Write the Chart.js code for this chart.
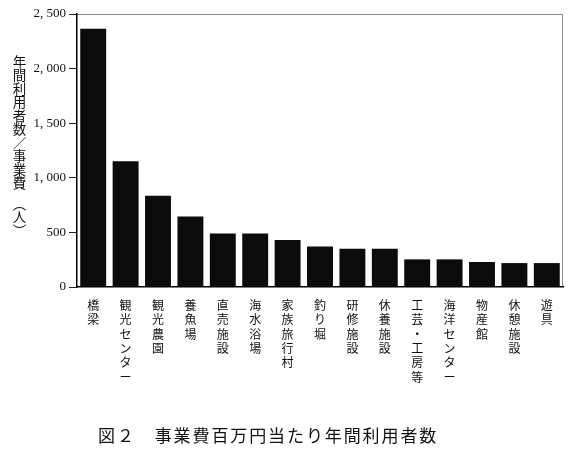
<!DOCTYPE html>
<html>
<head>
<meta charset="utf-8">
<script src="https://cdn.jsdelivr.net/npm/chart.js@4/dist/chart.umd.min.js"></script>
<style>
  html, body { margin: 0; padding: 0; background: #fff; }
  #wrap { position: relative; width: 572px; height: 450px; }
  #ytitle {
    position: absolute; left: 12px; top: 55px;
    writing-mode: vertical-rl; text-orientation: upright;
    font-family: "Noto Sans CJK JP", sans-serif; font-size: 13.5px; line-height: 13.5px;
    color: #111; white-space: nowrap;
  }
  #title {
    position: absolute; left: 98px; top: 426px;
    font-family: "Noto Sans CJK JP", sans-serif; font-size: 17px; line-height: 17px;
    letter-spacing: 1.9px; color: #111; white-space: nowrap;
  }
</style>
</head>
<body>
<div id="wrap">
  <canvas id="c"></canvas>
  <div id="ytitle">年間利用者数／事業費　（人）</div>
  <div id="title">図２　事業費百万円当たり年間利用者数</div>
</div>
<script>
const categories = ['橋梁', '観光センター', '観光農園', '養魚場', '直売施設', '海水浴場', '家族旅行村', '釣り堀', '研修施設', '休養施設', '工芸・工房等', '海洋センター', '物産館', '休憩施設', '遊具'];
const usersPerCost = [2365, 1152, 835, 646, 491, 491, 430, 372, 350, 350, 253, 253, 229, 219, 219];
const yTicks = [0, 500, 1000, 1500, 2000, 2500];
const yTickLabels = ['0', '500', '1, 000', '1, 500', '2, 000', '2, 500'];

const framePlugin = {
  id: 'frame',
  beforeDraw(chart) {
    const a = chart.chartArea, ctx = chart.ctx;
    ctx.save();
    ctx.strokeStyle = '#8a8a8a';
    ctx.lineWidth = 1;
    ctx.beginPath();
    ctx.moveTo(a.left, a.top + 0.5);
    ctx.lineTo(a.right - 0.5, a.top + 0.5);
    ctx.lineTo(a.right - 0.5, a.bottom);
    ctx.stroke();
    ctx.restore();
  }
};

new Chart(document.getElementById('c'), {
  type: 'bar',
  data: {
    labels: categories,
    datasets: [{
      data: usersPerCost,
      backgroundColor: '#0b0b0b',
      borderWidth: 0,
      barPercentage: 0.8,
      categoryPercentage: 1.0
    }]
  },
  options: {
    responsive: true,
    maintainAspectRatio: false,
    animation: false,
    layout: { padding: { left: 0, right: 9, top: 14, bottom: 0 } },
    plugins: {
      legend: { display: false },
      tooltip: { enabled: false },
      title: { display: false }
    },
    scales: {
      x: {
        grid: { display: false, drawTicks: false },
        border: { display: true, color: '#000', width: 1.5 },
        ticks: {
          autoSkip: false, maxRotation: 0, minRotation: 0, padding: 11,
          color: '#111',
          font: { family: '"Noto Sans CJK JP", sans-serif', size: 12, lineHeight: 1.2 },
          callback: (v, i) => Array.from(categories[i])
        },
        afterFit(scale) { scale.height = 163; }
      },
      y: {
        min: 0, max: 2500,
        afterBuildTicks(scale) { scale.ticks = yTicks.map(v => ({ value: v })); },
        grid: { display: true, drawOnChartArea: false, drawTicks: true, tickLength: 8, color: '#222', lineWidth: 1 },
        border: { display: true, color: '#000', width: 1.5 },
        ticks: {
          padding: 3, color: '#111',
          font: { family: '"Liberation Serif", serif', size: 13 },
          callback: (v) => yTickLabels[yTicks.indexOf(v)]
        },
        afterFit(scale) { scale.width = 77; }
      }
    }
  },
  plugins: [framePlugin]
});
</script>
</body>
</html>
